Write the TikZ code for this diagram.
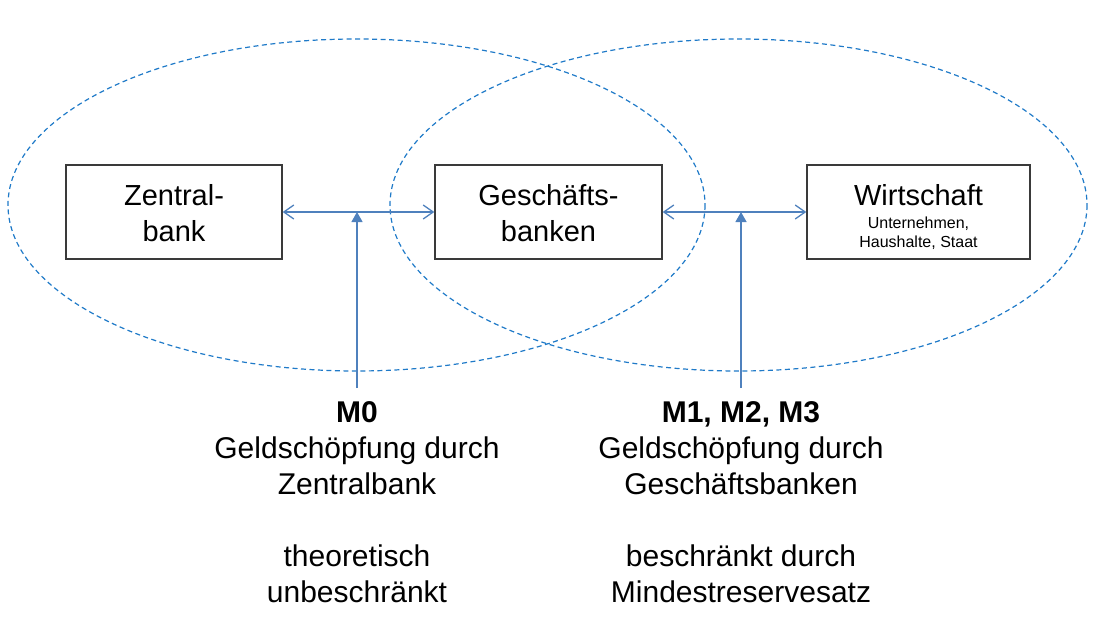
\documentclass[tikz,border=0pt]{standalone}
\usepackage{fontspec}
\setmainfont{Liberation Sans}
\usetikzlibrary{arrows.meta}
\definecolor{arrowblue}{HTML}{4F81BD}
\definecolor{ellblue}{HTML}{1F7AC8}
\definecolor{boxgray}{HTML}{3A3A3A}
\tikzset{
  box/.style={draw=boxgray, line width=1.4pt, minimum width=#1, minimum height=94pt, inner sep=0pt},
  boxtext/.style={font=\fontsize{29}{36}\selectfont, align=center, inner sep=0pt, anchor=north},
  subtext/.style={font=\fontsize{16}{19.5}\selectfont, align=center, inner sep=0pt, anchor=north},
  bottomtext/.style={font=\fontsize{30}{36}\selectfont, align=center, inner sep=0pt, anchor=north},
  zone/.style={draw=ellblue, line width=1.2pt, dash pattern=on 5pt off 3.5pt},
  flow/.style={draw=arrowblue, line width=1.3pt, {Straight Barb[length=10pt,width=14pt]}-{Straight Barb[length=10pt,width=14pt]}},
  push/.style={draw=arrowblue, line width=1.3pt, -{Triangle[length=10pt,width=11pt]}}
}
\begin{document}
\begin{tikzpicture}[x=1pt,y=-1pt]
\useasboundingbox (0,0) rectangle (1100,626);
% ellipses
\draw[zone] (356.5,205) ellipse [x radius=348.5, y radius=166];
\draw[zone] (738.5,205) ellipse [x radius=348.5, y radius=166];
% boxes
\node[box=216pt, fill=white, fill opacity=0] (zb) at (174,212) {};
\node[box=227pt] (gb) at (548.5,212) {};
\node[box=223pt] (wi) at (918.5,212) {};
\node[boxtext] (zbt) at (174,184) {Zentral-\\bank};
\node[boxtext] (gbt) at (548.5,184) {Geschäfts-\\banken};
\node[boxtext] (wit) at (918.5,184) {Wirtschaft};
\node[subtext] (wis) at (918.5,216.5) {Unternehmen,\\Haushalte, Staat};
% horizontal arrows
\draw[flow] (zb.east) -- (gb.west);
\draw[flow] (gb.east) -- (wi.west);
% bottom texts
\node[bottomtext] (m0) at (357,401) {\textbf{M0}\\Geldschöpfung durch\\Zentralbank\\[36pt]theoretisch\\unbeschränkt};
\node[bottomtext] (m1) at (741,401) {\textbf{M1, M2, M3}\\Geldschöpfung durch\\Geschäftsbanken\\[36pt]beschränkt durch\\Mindestreservesatz};
% vertical arrows
\coordinate (m0s) at (357,388);
\coordinate (m1s) at (741,388);
\coordinate (m0t) at (357,212);
\coordinate (m1t) at (741,212);
\draw[push] (m0s) -- (m0t);
\draw[push] (m1s) -- (m1t);
\end{tikzpicture}
\end{document}
